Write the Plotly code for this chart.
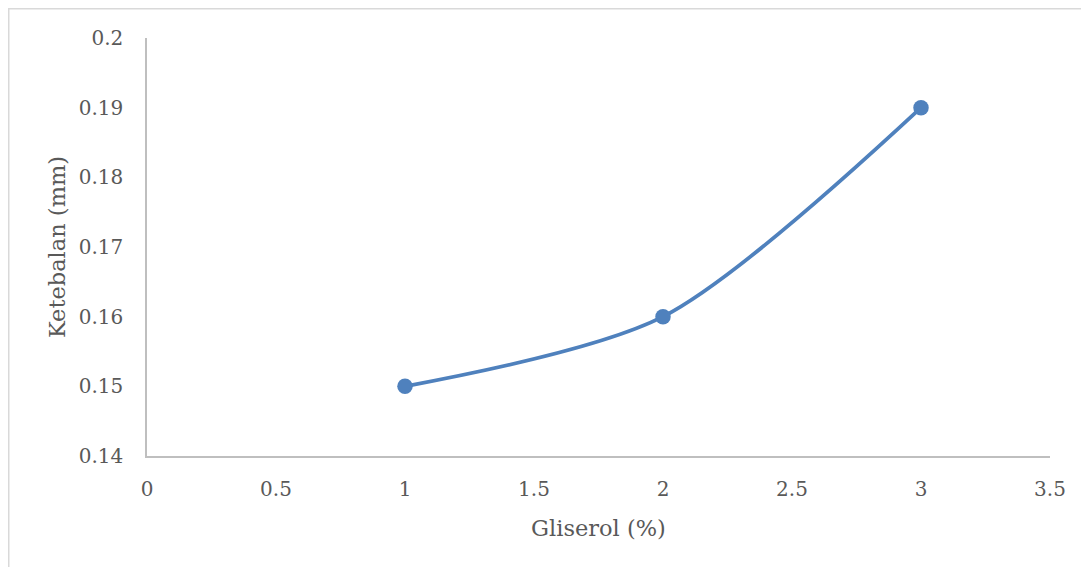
import plotly.graph_objects as go

gliserol = [1, 2, 3]
ketebalan = [0.15, 0.16, 0.19]
x_ticks = [0, 0.5, 1, 1.5, 2, 2.5, 3, 3.5]
y_ticks = [0.14, 0.15, 0.16, 0.17, 0.18, 0.19, 0.2]

FONT = "DejaVu Serif"
GREY = "#595959"

fig = go.Figure()
fig.add_trace(go.Scatter(
    x=gliserol, y=ketebalan, mode="lines+markers",
    line=dict(color="#4f81bd", width=3.75, shape="spline", smoothing=0.8),
    marker=dict(color="#4f81bd", size=15.5),
    showlegend=False,
))

L, T, PW, PH = 139, 30, 903, 418
fig.update_layout(
    width=1081, height=559,
    margin=dict(l=L, r=39, t=T, b=111),
    paper_bgcolor="white", plot_bgcolor="white",
    font=dict(family=FONT, size=20, color=GREY),
    xaxis=dict(
        range=[0, 3.5], tickvals=x_ticks, ticktext=[f"{v:g}" for v in x_ticks],
        showgrid=False, zeroline=False, showline=True, linecolor="#bfbfbf", linewidth=1.5,
        ticks="", ticklabelstandoff=14,
        title=dict(text="Gliserol (%)", standoff=20, font=dict(size=22.5, color=GREY)),
    ),
    yaxis=dict(
        range=[0.14, 0.2], tickvals=y_ticks, ticktext=[f"{v:g}" for v in y_ticks],
        showgrid=False, zeroline=False, showline=True, linecolor="#bfbfbf", linewidth=1.5,
        ticks="", ticklabelstandoff=18,
        title=dict(text="Ketebalan (mm)", standoff=7, font=dict(size=22.5, color=GREY)),
    ),
    shapes=[dict(type="rect", xref="paper", yref="paper",
                 x0=(0.75 - L) / PW, x1=1.2, y0=-0.5, y1=1 + (T - 0.75) / PH,
                 line=dict(color="#d9d9d9", width=1.5), fillcolor="rgba(0,0,0,0)", layer="below")],
)

fig.write_html("out.html")
